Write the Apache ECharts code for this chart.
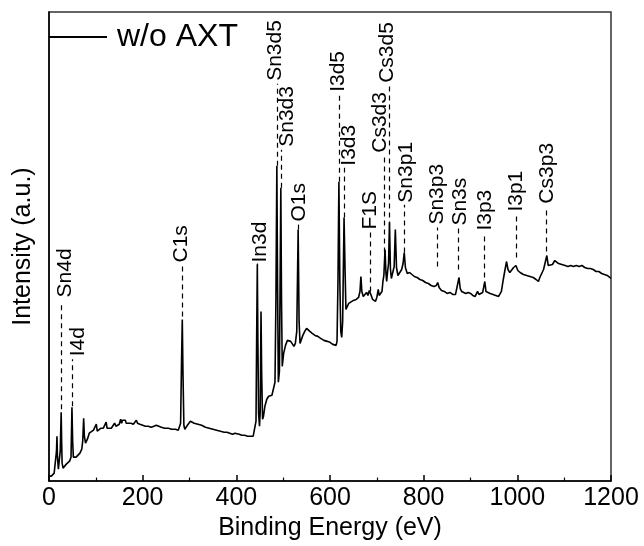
<!DOCTYPE html>
<html>
<head>
<meta charset="utf-8">
<script src="https://cdn.jsdelivr.net/npm/echarts@6/dist/echarts.min.js"></script>
<style>
  html, body { margin: 0; padding: 0; background: #fff; }
  #chart { width: 644px; height: 546px; }
</style>
</head>
<body>
<div id="chart"></div>
<script>
// XPS survey spectrum: binding energy (eV) and intensity (arbitrary units)
const energy = [
  0, 5, 9, 11, 14, 16, 17, 18, 20, 22, 24, 26, 27, 28, 30, 33, 37, 40, 44, 47,
  49, 50.5, 52, 55, 58, 62, 66, 70, 72, 74, 75.5, 78, 82, 86, 90, 95, 99, 101, 103, 107,
  111, 116, 119, 122, 124, 128, 133, 137, 140, 143, 147, 150, 153, 155, 157, 158, 160, 163, 165, 169,
  175, 180, 184, 186.5, 189, 194, 200, 206, 212, 218, 224, 229, 233, 240, 247, 255, 262, 270, 276, 279,
  281, 283, 284.6, 286, 288, 290, 293, 297, 302, 305, 310, 318, 326, 334, 342, 350, 358, 366, 374, 380,
  386, 392, 397, 399, 401, 406, 412, 418, 424, 430, 436, 440, 442, 443.5, 444.8, 446, 447.5, 449.5, 451, 452.7,
  454, 456, 458, 461, 465, 469, 472, 476, 479, 482.5, 484.5, 486.5, 488, 489.7, 492, 495, 496.5, 498, 501, 505,
  509, 512, 516, 520, 523, 526, 529, 532, 534, 536, 539, 542, 546, 550, 553, 557, 562, 568, 574, 580,
  587, 594, 600, 606, 610, 613, 615, 617, 619, 621, 623, 625, 627, 630, 632, 634, 636, 640, 644, 650,
  656, 661, 664, 666, 668, 671, 675, 678, 681, 684, 686, 688, 691, 694, 697, 700, 703, 705, 708, 711,
  713, 715, 717.5, 719.5, 721, 723, 725, 727, 729, 731, 733, 735, 737, 739.5, 742, 745, 749, 753, 756, 758.5,
  761, 765, 770, 775, 780, 786, 792, 798, 804, 810, 816, 822, 827, 830, 833, 838, 844, 850, 856, 862,
  868, 872, 875.5, 878, 881, 885, 890, 895, 900, 905, 910, 915, 918, 922, 926, 930.5, 933, 936, 942, 948,
  954, 960, 963, 966, 970, 973, 977, 980, 984, 988, 992, 997, 1001, 1006, 1013, 1020, 1027, 1034, 1040, 1045,
  1048, 1052, 1056, 1059, 1063, 1066, 1070, 1075, 1080, 1084, 1088, 1095, 1102, 1108, 1114, 1120, 1126, 1132, 1138, 1144,
  1150, 1156, 1162, 1168, 1174, 1180, 1186, 1192, 1196, 1200
];
const intensity = [
  5, 5, 5, 8, 10, 30, 45, 25, 12, 14, 30, 69, 40, 18, 13, 15, 17, 19, 20, 24,
  74, 40, 24, 22, 24, 26, 28, 32, 40, 63, 45, 38, 42, 48, 50, 51, 53, 57, 50, 49,
  53, 53, 55, 59, 53, 53, 53, 55, 58, 55, 55, 57, 62, 58, 61, 63, 59, 61, 58, 57,
  58, 57, 58, 61, 58, 57, 56, 55, 55, 54, 55, 56, 54, 54, 53, 53, 52, 52, 51, 52,
  58, 120, 162, 110, 56, 52, 54, 57, 60, 59, 58, 57, 56, 54, 53, 52, 51, 50, 49, 49,
  48, 47, 48, 50, 47, 47, 46, 46, 45, 45, 45, 47, 60, 150, 217, 140, 68, 55, 70, 170,
  110, 62, 65, 75, 82, 85, 87, 86, 85, 99, 180, 316, 200, 99, 110, 294, 180, 115, 128, 136,
  141, 142, 140, 139, 135, 138, 150, 252, 160, 138, 140, 146, 150, 153, 152, 150, 148, 146, 145, 143,
  141, 140, 139, 137, 135, 136, 140, 200, 300, 200, 150, 144, 160, 264, 215, 172, 170, 178, 180, 181,
  182, 184, 190, 205, 190, 185, 186, 189, 186, 191, 193, 186, 182, 183, 180, 184, 192, 186, 184, 190,
  200, 206, 232, 208, 200, 210, 218, 259, 213, 203, 205, 202, 215, 252, 214, 206, 206, 212, 218, 229,
  214, 208, 209, 207, 205, 204, 202, 201, 199, 198, 196, 195, 196, 199, 194, 191, 190, 188, 189, 187,
  187, 189, 204, 193, 190, 189, 188, 189, 188, 186, 185, 190, 187, 186, 189, 200, 190, 189, 188, 187,
  186, 185, 184, 190, 202, 210, 220, 212, 209, 211, 214, 216, 211, 209, 207, 206, 205, 204, 202, 200,
  204, 208, 212, 213, 226, 216, 215, 217, 221, 223, 218, 217, 216, 215, 216, 215, 216, 215, 216, 214,
  213, 213, 212, 210, 210, 208, 207, 206, 204, 203
];

// Peak assignments: guide energy, dashed guide span, label position
const peakNames   = ['Sn4d', 'I4d', 'C1s', 'In3d', 'Sn3d5', 'Sn3d3', 'O1s', 'I3d5', 'I3d3', 'F1S',
                     'Cs3d3', 'Cs3d5', 'Sn3p1', 'Sn3p3', 'Sn3s', 'I3p3', 'I3p1', 'Cs3p3'];
const peakEnergy  = [26, 49, 284.6, 444.8, 487.5, 496, 532, 619, 630, 685.5,
                     716.5, 725.5, 758, 829, 874.5, 929.5, 997, 1061];
const dashLow     = [72, 75, 165, 216, 316, 294, 252, 300, 264, 190,
                     229, 255, 229, 215, 212, 204, 224, 230];
const dashHigh    = [180, 122, 215, 218, 398, 332, 259, 387, 314, 250,
                     327, 397, 277, 254, 254, 248, 267, 275];
const labelEnergy = [35, 63, 282, 452, 483, 508, 535, 618, 642, 685.5,
                     708, 722.5, 763, 829, 877, 932, 997, 1064];
const labelFoot   = [184, 125, 219, 219, 401, 335, 260, 390, 316, 252,
                     329, 399, 279, 257, 256, 251, 270, 278];

const xMin = 0, xMax = 1200, xStep = 200;
const FONT = 'Liberation Sans, Arial, sans-serif';

const chart = echarts.init(document.getElementById('chart'), null, { renderer: 'canvas' });

chart.setOption({
  animation: false,
  backgroundColor: '#fff',
  grid: { left: 49, right: 33, top: 12, bottom: 64, show: true, borderColor: '#333', borderWidth: 1.5 },
  legend: {
    data: ['w/o AXT'],
    left: 44, top: 16,
    icon: 'rect',
    itemWidth: 58, itemHeight: 2,
    textStyle: { fontSize: 32, color: '#000', fontFamily: FONT, padding: [0, 0, 0, 5] }
  },
  xAxis: {
    type: 'value', min: xMin, max: xMax, interval: xStep,
    axisLine: { lineStyle: { color: '#000', width: 1.5 } },
    axisTick: { inside: true, length: 6, lineStyle: { color: '#000', width: 1.5 } },
    minorTick: { show: true, splitNumber: 2, length: 3.5, lineStyle: { color: '#000', width: 1.2 } },
    splitLine: { show: false },
    axisLabel: { fontSize: 25, color: '#000', margin: 5, fontFamily: FONT, formatter: v => String(v) },
    name: 'Binding Energy (eV)', nameLocation: 'middle', nameGap: 30,
    nameTextStyle: { fontSize: 25, color: '#000', fontFamily: FONT }
  },
  yAxis: {
    type: 'value', min: 0, max: 470,
    axisLine: { show: true, lineStyle: { color: '#000', width: 1.5 } },
    axisTick: { show: false }, axisLabel: { show: false }, splitLine: { show: false },
    name: 'Intensity (a.u.)', nameLocation: 'middle', nameGap: 13,
    nameTextStyle: { fontSize: 25, color: '#000', fontFamily: FONT }
  },
  series: [
    {
      name: 'w/o AXT',
      type: 'line',
      symbol: 'none',
      data: energy.map((e, i) => [e, intensity[i]]),
      lineStyle: { color: '#000', width: 1.6 },
      itemStyle: { color: '#000' },
      markLine: {
        silent: true,
        symbol: 'none',
        label: { show: false },
        lineStyle: { type: [5, 4], color: '#000', width: 1.2 },
        data: peakNames.map((n, i) => [
          { coord: [peakEnergy[i], dashLow[i]] },
          { coord: [peakEnergy[i], dashHigh[i]] }
        ])
      }
    },
    {
      type: 'scatter',
      silent: true,
      symbolSize: 1,
      itemStyle: { color: 'rgba(0,0,0,0)', opacity: 1 },
      data: peakNames.map((n, i) => ({ name: n, value: [labelEnergy[i], labelFoot[i]] })),
      label: {
        show: true, formatter: '{b}', position: 'inside',
        rotate: 90, align: 'left', verticalAlign: 'middle',
        fontSize: 21, color: '#000', opacity: 1,
        textBorderWidth: 0, fontFamily: FONT
      },
      z: 5
    }
  ]
});
</script>
</body>
</html>
